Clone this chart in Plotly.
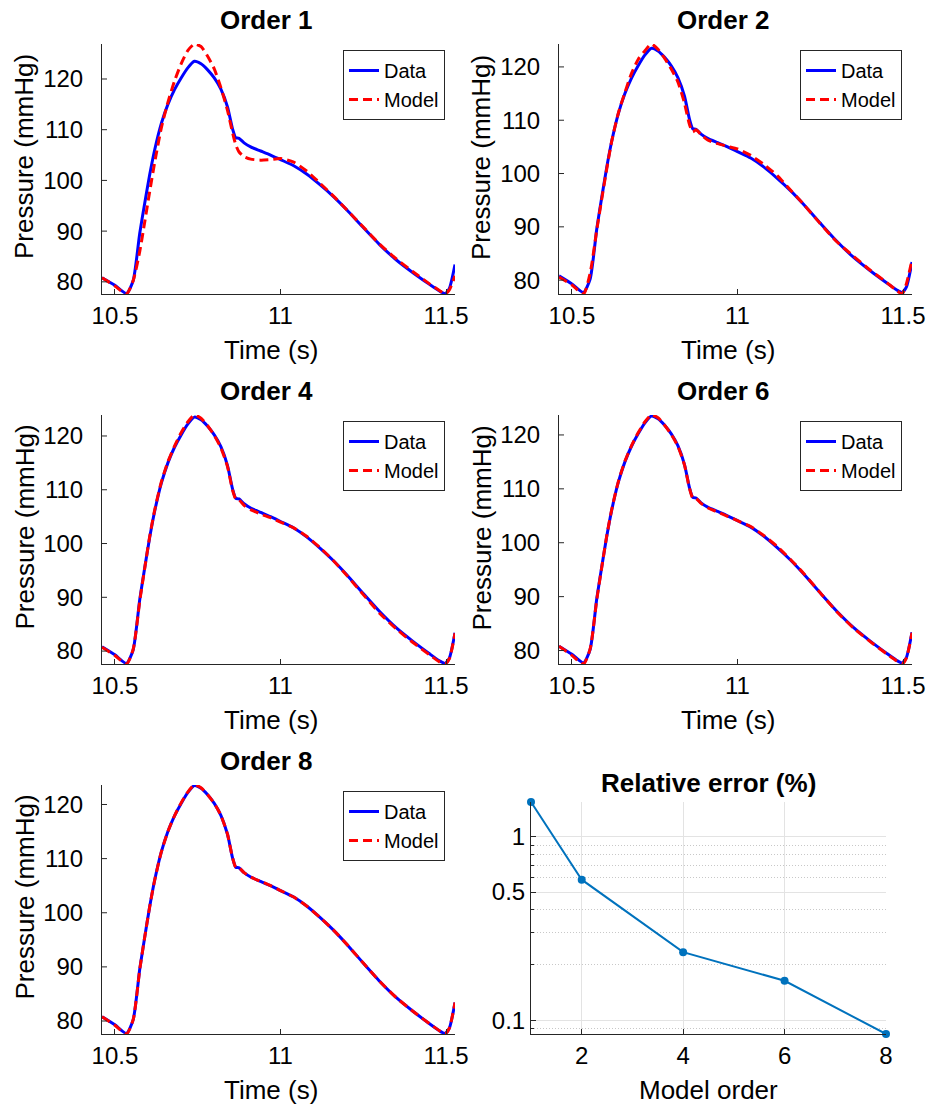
import math
import plotly.graph_objects as go

# ---------------- data ----------------
time_s = [10.461, 10.50, 10.535, 10.555, 10.575, 10.59, 10.605, 10.62, 10.64, 10.66,
          10.68, 10.70, 10.72, 10.74, 10.76, 10.78, 10.80, 10.82, 10.84, 10.855,
          10.865, 10.875, 10.89, 10.91, 10.94, 10.97, 11.00, 11.04, 11.08, 11.12,
          11.16, 11.20, 11.25, 11.30, 11.35, 11.40, 11.45, 11.48, 11.497, 11.51, 11.527]

data_p = [80.8, 79.3, 77.7, 80.2, 89.6, 95.5, 101.1, 106.0, 111.2, 115.0,
          117.9, 120.2, 122.2, 123.5, 123.0, 121.8, 120.2, 118.0, 114.5, 110.2,
          108.4, 108.3, 107.4, 106.6, 105.8, 105.0, 104.1, 102.9, 101.2, 99.1,
          96.8, 94.2, 90.7, 87.3, 84.3, 81.8, 79.5, 78.2, 77.7, 78.7, 83.4]

model_1 = [80.8, 79.2, 77.6, 80.2, 86.0, 91.8, 97.8, 103.5, 110.3, 115.4,
           119.6, 123.0, 125.6, 126.9, 126.4, 124.5, 122.0, 118.3, 113.8, 109.5,
           107.0, 105.6, 104.7, 104.2, 104.0, 104.1, 104.3, 103.6, 101.8, 99.4,
           96.9, 94.2, 90.8, 87.4, 84.5, 82.0, 79.6, 78.3, 77.6, 78.4, 81.2]

model_2 = [80.6, 79.1, 77.4, 81.3, 89.4, 95.2, 100.8, 106.0, 111.3, 115.2,
           118.8, 121.4, 123.0, 124.3, 123.3, 121.6, 119.6, 117.2, 113.2, 109.2,
           107.8, 108.2, 107.3, 106.3, 105.6, 105.1, 104.6, 103.4, 101.7, 99.6,
           96.9, 94.2, 90.6, 87.2, 84.5, 81.9, 79.6, 78.1, 77.4, 79.3, 83.8]

model_4 = [80.7, 79.2, 77.6, 80.3, 89.3, 95.4, 101.3, 106.2, 111.4, 115.2,
           118.1, 120.6, 122.6, 123.9, 123.3, 121.9, 120.1, 117.8, 114.3, 110.0,
           108.3, 108.1, 107.1, 106.3, 105.5, 104.8, 104.0, 102.9, 101.3, 99.2,
           96.8, 94.1, 90.5, 87.0, 84.1, 81.6, 79.3, 78.0, 77.6, 78.6, 83.3]

model_6 = [80.8, 79.1, 77.5, 80.3, 89.4, 95.4, 101.2, 106.1, 111.3, 115.1,
           118.0, 120.4, 122.4, 123.7, 123.2, 121.8, 120.1, 117.9, 114.4, 110.1,
           108.3, 108.2, 107.3, 106.5, 105.7, 104.9, 104.1, 103.0, 101.3, 99.3,
           96.9, 94.3, 90.7, 87.2, 84.2, 81.7, 79.4, 78.1, 77.5, 78.6, 83.3]

model_8 = [80.8, 79.2, 77.6, 80.2, 89.5, 95.5, 101.1, 106.0, 111.2, 115.0,
           117.9, 120.3, 122.3, 123.6, 123.1, 121.8, 120.2, 118.0, 114.5, 110.2,
           108.4, 108.3, 107.4, 106.6, 105.8, 105.0, 104.1, 102.9, 101.2, 99.1,
           96.8, 94.2, 90.7, 87.3, 84.3, 81.8, 79.5, 78.2, 77.6, 78.7, 83.4]

model_orders = [1, 2, 4, 6, 8]
rel_error_pct = [1.55, 0.584, 0.235, 0.164, 0.084]

panel_titles = ["Order 1", "Order 2", "Order 4", "Order 6", "Order 8"]
time_ticks = [10.5, 11, 11.5]
time_tick_text = ["10.5", "11", "11.5"]
pressure_ticks = [80, 90, 100, 110, 120]
order_ticks = [2, 4, 6, 8]
err_ticks = [0.1, 0.5, 1]
err_tick_text = ["0.1", "0.5", "1"]
err_minor_ticks = [0.09, 0.2, 0.3, 0.4, 0.6, 0.7, 0.8, 0.9]

models = [model_1, model_2, model_4, model_6, model_8]

# ---------------- layout helpers ----------------
W, H = 936, 1107
FONT = "Liberation Sans, Arial, Helvetica, sans-serif"
AX = "#262626"


def fx(px):
    return px / W


def fy(py):
    return 1 - py / H


# (left, top, right, bottom) pixel boxes of each pressure axes
boxes = [(102, 44, 455, 294), (559, 44, 912, 294),
         (102, 415, 455, 664), (559, 415, 912, 664),
         (102, 785, 455, 1034)]
err_box = (531, 802, 886, 1034)

fig = go.Figure()
annotations = []
shapes = []
layout = {}

for i, (box, title, model) in enumerate(zip(boxes, panel_titles, models)):
    n = "" if i == 0 else str(i + 1)
    xa, ya = "x" + n, "y" + n
    leg = "legend" + n
    l, t, r, b = box
    fig.add_trace(go.Scatter(x=time_s, y=data_p, mode="lines", name="Data",
                             line=dict(color="#0000FF", width=3, shape="spline", smoothing=0.6),
                             xaxis=xa, yaxis=ya, legend=leg, showlegend=True))
    fig.add_trace(go.Scatter(x=time_s, y=model, mode="lines", name="Model",
                             line=dict(color="#FF0000", width=3, dash="9px,5px",
                                       shape="spline", smoothing=0.6),
                             xaxis=xa, yaxis=ya, legend=leg, showlegend=True))
    ymin = min(min(data_p), min(model))
    ymax = max(max(data_p), max(model))
    layout["xaxis" + n] = dict(domain=[fx(l), fx(r)], anchor=ya, automargin=False,
                               range=[min(time_s), max(time_s)],
                               tickvals=time_ticks, ticktext=time_tick_text,
                               ticks="inside", ticklen=5, tickcolor=AX,
                               showline=True, linecolor=AX, linewidth=1,
                               showgrid=False, zeroline=False,
                               tickfont=dict(size=24, color="#000000", family=FONT))
    # transparent outside ticks only space the labels away from the axis
    layout["yaxis" + n] = dict(domain=[fy(b), fy(t)], anchor=xa, automargin=False,
                               range=[ymin, ymax],
                               tickvals=pressure_ticks,
                               ticks="outside", ticklen=13, tickcolor="rgba(0,0,0,0)",
                               showline=True, linecolor=AX, linewidth=1,
                               showgrid=False, zeroline=False,
                               tickfont=dict(size=24, color="#000000", family=FONT))
    # visible short inside tick marks
    for v in pressure_ticks:
        shapes.append(dict(type="line", xref=xa + " domain", yref=ya,
                           x0=0, x1=5 / (r - l), y0=v, y1=v,
                           line=dict(color=AX, width=1)))
    layout[leg] = dict(x=fx(r - 10), y=fy(t + 6), xanchor="right", yanchor="top",
                       bgcolor="white", bordercolor="#262626", borderwidth=1,
                       font=dict(size=20, family=FONT, color="#000000"),
                       tracegroupgap=0, itemwidth=30)
    cx = (l + r) / 2 - 12
    annotations.append(dict(text="<b>%s</b>" % title, x=fx(cx), y=fy(t - 24),
                            xref="paper", yref="paper", showarrow=False,
                            xanchor="center", yanchor="middle",
                            font=dict(size=26, family=FONT, color="#000000")))
    annotations.append(dict(text="Time (s)", x=fx(cx + 4), y=fy(b + 56),
                            xref="paper", yref="paper", showarrow=False,
                            xanchor="center", yanchor="middle",
                            font=dict(size=26, family=FONT, color="#000000")))
    annotations.append(dict(text="Pressure (mmHg)", x=fx(l - 78), y=fy((t + b) / 2 - 12),
                            xref="paper", yref="paper", showarrow=False, textangle=-90,
                            xanchor="center", yanchor="middle",
                            font=dict(size=26, family=FONT, color="#000000")))

# ---------------- relative error panel ----------------
l, t, r, b = err_box
fig.add_trace(go.Scatter(x=model_orders, y=rel_error_pct, mode="lines+markers",
                         line=dict(color="#0072BD", width=2),
                         marker=dict(color="#0072BD", size=8),
                         cliponaxis=False, showlegend=False,
                         xaxis="x6", yaxis="y6"))
layout["xaxis6"] = dict(domain=[fx(l), fx(r)], anchor="y6", automargin=False,
                        range=[min(model_orders), max(model_orders)],
                        tickvals=order_ticks, ticks="inside", ticklen=5, tickcolor=AX,
                        showline=True, linecolor=AX, linewidth=1,
                        showgrid=True, gridcolor="#E3E3E3", gridwidth=1, zeroline=False,
                        tickfont=dict(size=24, color="#000000", family=FONT))
layout["yaxis6"] = dict(domain=[fy(b), fy(t)], anchor="x6", type="log", automargin=False,
                        range=[math.log10(min(rel_error_pct)), math.log10(max(rel_error_pct))],
                        tickvals=err_ticks, ticktext=err_tick_text,
                        ticks="inside", ticklen=5, tickcolor=AX,
                        showline=True, linecolor=AX, linewidth=1,
                        showgrid=True, gridcolor="#E3E3E3", gridwidth=1, zeroline=False,
                        minor=dict(tickvals=err_minor_ticks, ticks="inside", ticklen=3,
                                   tickcolor=AX, showgrid=True, gridcolor="#C8C8C8",
                                   griddash="1px,2px", gridwidth=1),
                        tickfont=dict(size=24, color="#000000", family=FONT))
annotations.append(dict(text="<b>Relative error (%)</b>", x=fx(708), y=fy(783),
                        xref="paper", yref="paper", showarrow=False,
                        xanchor="center", yanchor="middle",
                        font=dict(size=26, family=FONT, color="#000000")))
annotations.append(dict(text="Model order", x=fx(708), y=fy(1090),
                        xref="paper", yref="paper", showarrow=False,
                        xanchor="center", yanchor="middle",
                        font=dict(size=26, family=FONT, color="#000000")))

fig.update_layout(width=W, height=H, margin=dict(l=0, r=0, t=0, b=0, pad=0, autoexpand=False),
                  paper_bgcolor="white", plot_bgcolor="white",
                  font=dict(family=FONT, color="#000000"),
                  annotations=annotations, shapes=shapes, **layout)

fig.write_html("out.html", config={"displayModeBar": False},
               post_script="document.body.style.margin='0px';"
                           "document.body.style.overflow='hidden';")
